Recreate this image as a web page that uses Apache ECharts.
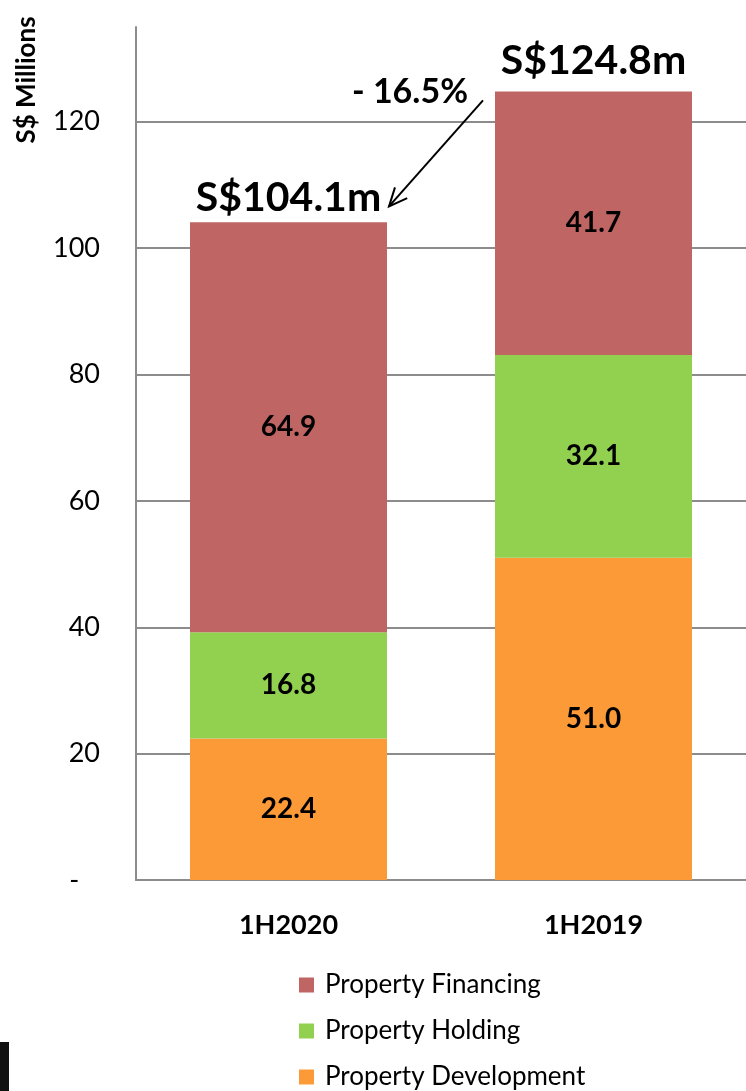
<!DOCTYPE html>
<html>
<head>
<meta charset="utf-8">
<script src="https://cdn.jsdelivr.net/npm/echarts@6/dist/echarts.min.js"></script>
<style>
html,body{margin:0;padding:0;background:#fff;}
#chart{width:746px;height:1091px;}
</style>
</head>
<body>
<div id="chart"></div>
<script>
var categories = ['1H2020', '1H2019'];
var development = [22.4, 51.0];
var holding = [16.8, 32.1];
var financing = [64.9, 41.7];
var totals = [104.1, 124.8];
var changeLabel = '- 16.5%';
var yTicks = [0, 20, 40, 60, 80, 100, 120];
var legendNames = ['Property Financing', 'Property Holding', 'Property Development'];

var FONT = 'Lato';
var chart = echarts.init(document.getElementById('chart'));
var barW = 197;
var labelStyle = {show: true, position: 'inside', color: '#000', fontFamily: FONT, fontWeight: 'bold', fontSize: 28};
var totalDist = [4, 10];
var legendTops = [972, 1018, 1064];

var option = {
  animation: false,
  grid: {left: 136, right: 0, top: 27, bottom: 211, containLabel: false},
  legend: legendNames.map(function (n, i) {
    return {
      orient: 'horizontal', left: 299, top: legendTops[i], padding: 0,
      itemWidth: 15, itemHeight: 15, icon: 'rect',
      data: [n],
      textStyle: {fontFamily: FONT, fontSize: 26, color: '#000', padding: [0, 0, 0, 6]}
    };
  }),
  xAxis: {
    type: 'category', data: categories,
    axisLine: {lineStyle: {color: '#8c8c8c', width: 2}},
    axisTick: {show: false},
    axisLabel: {margin: 32, color: '#000', fontFamily: FONT, fontWeight: 'bold', fontSize: 27}
  },
  yAxis: {
    type: 'value', min: 0, max: 135, interval: 20,
    axisLine: {show: true, lineStyle: {color: '#8c8c8c', width: 2}},
    axisTick: {show: false},
    splitLine: {show: true, showMaxLine: false, lineStyle: {color: '#8c8c8c', width: 2}},
    axisLabel: {
      margin: 36, color: '#000', fontFamily: FONT, fontSize: 27, showMaxLabel: false,
      formatter: function (v) { return yTicks.indexOf(v) < 0 ? '' : (v === 0 ? '-   ' : String(v)); }
    }
  },
  series: [
    {name: 'Property Development', type: 'bar', stack: 'a', barWidth: barW, data: development,
     itemStyle: {color: '#FD9A38'}, label: Object.assign({formatter: function (p) { return p.value.toFixed(1); }}, labelStyle)},
    {name: 'Property Holding', type: 'bar', stack: 'a', barWidth: barW, data: holding,
     itemStyle: {color: '#92D050'}, label: Object.assign({formatter: function (p) { return p.value.toFixed(1); }}, labelStyle)},
    {name: 'Property Financing', type: 'bar', stack: 'a', barWidth: barW, data: financing,
     itemStyle: {color: '#BF6563'}, label: Object.assign({formatter: function (p) { return p.value.toFixed(1); }}, labelStyle)},
    {name: 'Total', type: 'bar', stack: 'a', barWidth: barW,
     data: totals.map(function (t, i) { return {value: 0, label: {distance: totalDist[i]}}; }),
     itemStyle: {color: 'rgba(0,0,0,0)'},
     label: {show: true, position: 'top', color: '#000', fontFamily: FONT, fontWeight: 'bold', fontSize: 41,
       formatter: function (p) { return 'S$' + totals[p.dataIndex].toFixed(1) + 'm'; }}}
  ]
};
chart.setOption(option);

var tip = chart.convertToPixel({xAxisIndex: 0, yAxisIndex: 0}, [categories[0], 106.6]);
var start = chart.convertToPixel({xAxisIndex: 0, yAxisIndex: 0}, [categories[1], 123.4]);
var tx = tip[0] + barW / 2 + 2, ty = tip[1];
var sx = start[0] - barW / 2 - 12, sy = start[1];
var ang = Math.atan2(sy - ty, sx - tx);
var hl = 20, ha = 0.42;
var h1 = [tx + hl * Math.cos(ang + ha), ty + hl * Math.sin(ang + ha)];
var h2 = [tx + hl * Math.cos(ang - ha), ty + hl * Math.sin(ang - ha)];

chart.setOption({
  graphic: [
    {type: 'line', shape: {x1: sx, y1: sy, x2: tx, y2: ty}, style: {stroke: '#000', lineWidth: 2}},
    {type: 'polyline', shape: {points: [h1, [tx, ty], h2]}, style: {stroke: '#000', lineWidth: 2, fill: null}},
    {type: 'text', x: sx - 15, y: sy - 8, style: {text: changeLabel, align: 'right', verticalAlign: 'middle',
      fontFamily: FONT, fontWeight: 'bold', fontSize: 34, fill: '#000'}},
    {type: 'text', x: 27, y: 80, rotation: Math.PI / 2, style: {text: 'S$ Millions', align: 'center', verticalAlign: 'middle',
      fontFamily: FONT, fontWeight: 'bold', fontSize: 26, fill: '#000'}},
    {type: 'rect', shape: {x: 0, y: 1042, width: 9, height: 49}, style: {fill: '#111'}}
  ]
});
</script>
</body>
</html>
